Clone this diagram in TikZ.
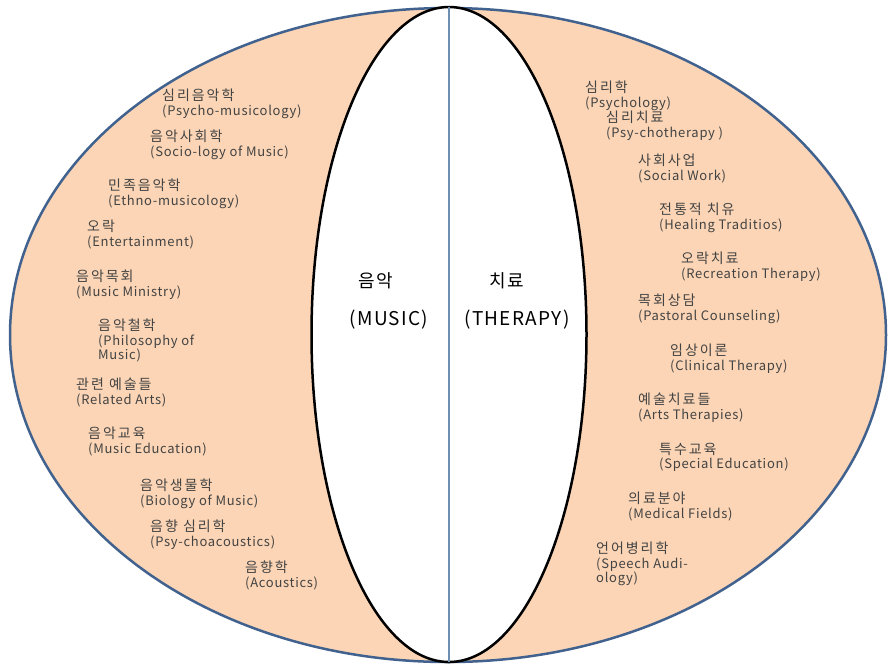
\documentclass[tikz,border=0pt]{standalone}
\usepackage{fontspec}
\setmainfont{Noto Sans CJK KR}[LetterSpace=5.5]
\newfontfamily\kofont{Noto Sans CJK KR}[LetterSpace=14]
\newfontfamily\bigkofont{Noto Sans CJK KR}[LetterSpace=10]
\newfontfamily\bigfont{Noto Sans CJK KR}[LetterSpace=7]
\newcommand{\ko}[1]{{\kofont\fontsize{14}{14.5}\selectfont #1}}
\definecolor{peach}{HTML}{FBD5B5}
\definecolor{rimblue}{HTML}{41628E}
\definecolor{midblue}{HTML}{6D8FB1}
\definecolor{labelgray}{HTML}{434343}
\begin{document}
\begin{tikzpicture}[x=1pt,y=-1pt,
  item/.style={anchor=north west, inner sep=0pt, align=left, text=labelgray,
    font=\fontsize{13}{14.5}\selectfont, yshift=1pt},
  bigword/.style={anchor=center, inner sep=0pt, text=black,
    font=\bigfont\fontsize{19}{21}\selectfont},
  bigko/.style={anchor=center, inner sep=0pt, text=black,
    font=\bigkofont\fontsize{18}{19}\selectfont},
  outerrim/.style={draw=rimblue, line width=2.5pt, fill=peach},
  innerrim/.style={draw=black, line width=2.5pt, fill=white},
  midline/.style={draw=midblue, line width=1.3pt}]
\useasboundingbox (0,0) rectangle (889,665);
\fill[white] (0,0) rectangle (889,665);
\draw[outerrim] (448,335) ellipse [x radius=438, y radius=327];
\draw[innerrim] (449,334.5) ellipse [x radius=137.5, y radius=327.5];
\coordinate (top) at (449,7);
\coordinate (bot) at (449,662);
\draw[midline] (top) -- (bot);
% centre words
\node[bigko] (m1) at (376,281) {음악};
\node[bigword] (m2) at (389,320) {(MUSIC)};
\node[bigko] (t1) at (507,281) {치료};
\node[bigword] (t2) at (517,320) {(THERAPY)};
% left side
\node[item] (l1) at (162,90) {\ko{심리음악학}\\(Psycho-musicology)};
\node[item] (l2) at (150,131) {\ko{음악사회학}\\(Socio-logy of Music)};
\node[item] (l3) at (108,180) {\ko{민족음악학}\\(Ethno-musicology)};
\node[item] (l4) at (87,221) {\ko{오락}\\(Entertainment)};
\node[item] (l5) at (76,271) {\ko{음악목회}\\(Music Ministry)};
\node[item] (l6) at (98,320) {\ko{음악철학}\\(Philosophy of\\Music)};
\node[item] (l7) at (76,379) {\ko{관련 예술들}\\(Related Arts)};
\node[item] (l8) at (88,428) {\ko{음악교육}\\(Music Education)};
\node[item] (l9) at (140,480) {\ko{음악생물학}\\(Biology of Music)};
\node[item] (l10) at (150,521) {\ko{음향 심리학}\\(Psy-choacoustics)};
\node[item] (l11) at (245,562) {\ko{음향학}\\(Acoustics)};
% right side
\node[item] (r1) at (585,82) {\ko{심리학}\\(Psychology)};
\node[item] (r2) at (606,112) {\ko{심리치료}\\(Psy-chotherapy )};
\node[item] (r3) at (638,155) {\ko{사회사업}\\(Social Work)};
\node[item] (r4) at (659,204) {\ko{전통적 치유}\\(Healing Traditios)};
\node[item] (r5) at (681,253) {\ko{오락치료}\\(Recreation Therapy)};
\node[item] (r6) at (638,295) {\ko{목회상담}\\(Pastoral Counseling)};
\node[item] (r7) at (670,345) {\ko{임상이론}\\(Clinical Therapy)};
\node[item] (r8) at (638,394) {\ko{예술치료들}\\(Arts Therapies)};
\node[item] (r9) at (659,444) {\ko{특수교육}\\(Special Education)};
\node[item] (r10) at (628,493) {\ko{의료분야}\\(Medical Fields)};
\node[item] (r11) at (596,543) {\ko{언어병리학}\\(Speech Audi-\\ology)};
\end{tikzpicture}
\end{document}
